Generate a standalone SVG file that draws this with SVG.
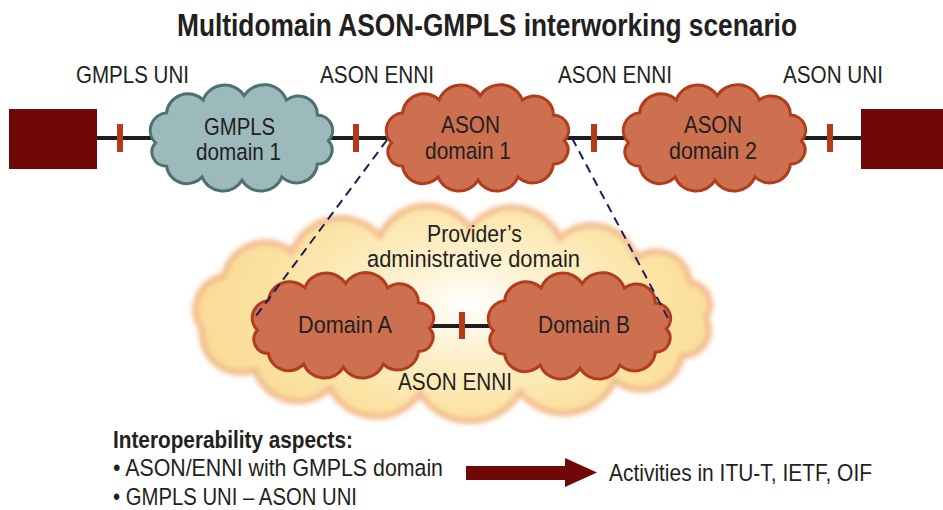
<svg xmlns="http://www.w3.org/2000/svg" xmlns:xlink="http://www.w3.org/1999/xlink" width="943" height="510" viewBox="0 0 943 510">
<style>
text{font-family:"Liberation Sans",Arial,sans-serif;fill:#231f20;font-size:24.5px}
.title{font-size:31px;font-weight:bold}
.bold{font-weight:bold}
.ason{fill:#cc7050;stroke:#b23c1c;stroke-width:3}
.gmpls{fill:#9cb9bc;stroke:#4f7070;stroke-width:3}
.tick{fill:#b5391a}
.wire{stroke:#1e1e1e;stroke-width:4;fill:none}
.dash{stroke:#1c1c5c;stroke-width:2;stroke-dasharray:9 6;fill:none}
.term{fill:#700808}
</style>
<defs>
<path id="cloud" vector-effect="non-scaling-stroke" d="M12,58 A16.5,16.5 0 0 1 22,30 A19.3,19.3 0 0 1 55,18 A20.5,20.5 0 0 1 92,14 A21,21 0 0 1 130,18 A17.2,17.2 0 0 1 158,32 A14.3,14.3 0 0 1 168,56 A13.3,13.3 0 0 1 158,78 A18.8,18.8 0 0 1 126,90 A19.9,19.9 0 0 1 90,93 A19.9,19.9 0 0 1 54,90 A18.4,18.4 0 0 1 22,80 A13.3,13.3 0 0 1 12,58 Z"/>
<radialGradient id="glow" gradientUnits="userSpaceOnUse" cx="470" cy="305" r="260" gradientTransform="translate(470 305) scale(1 0.55) translate(-470 -305)">
<stop offset="0" stop-color="#ffffff"/>
<stop offset="0.35" stop-color="#fdf0cc"/>
<stop offset="0.75" stop-color="#fce3a4"/>
<stop offset="1" stop-color="#fbdc98"/>
</radialGradient>
<filter id="soft" x="-10%" y="-10%" width="120%" height="120%"><feGaussianBlur stdDeviation="2.5"/></filter>
</defs>

<text class="title" x="177" y="36" textLength="620" lengthAdjust="spacingAndGlyphs">Multidomain ASON-GMPLS interworking scenario</text>

<g id="provider-domain">
<path fill="url(#glow)" stroke="#f2bb8c" stroke-width="6" filter="url(#soft)" d="M202,330 A34,34 0 0 1 224,276 A42,42 0 0 1 292,252 A52,52 0 0 1 380,236 A52,52 0 0 1 470,228 A53,53 0 0 1 560,238 A46,46 0 0 1 636,258 A34,34 0 0 1 690,282 A23,23 0 0 1 706,318 A26,26 0 0 1 682,356 A41,41 0 0 1 615,380 A56,56 0 0 1 520,392 A58,58 0 0 1 420,393 A52,52 0 0 1 330,388 A45,45 0 0 1 255,370 A39,39 0 0 1 202,330 Z"/>
<text x="427" y="242" textLength="95" lengthAdjust="spacingAndGlyphs">Provider’s</text>
<text x="367" y="267" textLength="213" lengthAdjust="spacingAndGlyphs">administrative domain</text>
</g>

<g id="connectors">
<line class="wire" x1="97" y1="138" x2="862" y2="138"/>
<line class="wire" x1="430" y1="326" x2="492" y2="326"/>
</g>

<g id="terminal-left"><rect class="term" x="9" y="109" width="88" height="60"/></g>
<g id="terminal-right"><rect class="term" x="861" y="109" width="82" height="60"/></g>

<g id="gmpls-uni"><rect class="tick" x="117" y="124" width="6" height="28"/><text x="76" y="83" textLength="113" lengthAdjust="spacingAndGlyphs">GMPLS UNI</text></g>
<g id="ason-enni-1"><rect class="tick" x="353" y="124" width="6" height="28"/><text x="320" y="83" textLength="114" lengthAdjust="spacingAndGlyphs">ASON ENNI</text></g>
<g id="ason-enni-2"><rect class="tick" x="591" y="124" width="6" height="28"/><text x="558" y="83" textLength="114" lengthAdjust="spacingAndGlyphs">ASON ENNI</text></g>
<g id="ason-uni"><rect class="tick" x="827" y="124" width="6" height="28"/><text x="783" y="83" textLength="100" lengthAdjust="spacingAndGlyphs">ASON UNI</text></g>

<g id="gmpls-domain-1">
<use xlink:href="#cloud" href="#cloud" class="gmpls" transform="translate(142.24 80.72) scale(1.1084 1.07)"/>
<text x="204" y="135" textLength="71" lengthAdjust="spacingAndGlyphs">GMPLS</text>
<text x="196" y="160" textLength="85" lengthAdjust="spacingAndGlyphs">domain 1</text>
</g>
<g id="ason-domain-1">
<use xlink:href="#cloud" href="#cloud" class="ason" transform="translate(378.24 80.72) scale(1.1084 1.07)"/>
<text x="441" y="133" textLength="59" lengthAdjust="spacingAndGlyphs">ASON</text>
<text x="425" y="159" textLength="86" lengthAdjust="spacingAndGlyphs">domain 1</text>
</g>
<g id="ason-domain-2">
<use xlink:href="#cloud" href="#cloud" class="ason" transform="translate(615.24 80.72) scale(1.1084 1.07)"/>
<text x="684" y="133" textLength="58" lengthAdjust="spacingAndGlyphs">ASON</text>
<text x="669" y="159" textLength="88" lengthAdjust="spacingAndGlyphs">domain 2</text>
</g>

<g id="domain-a">
<use xlink:href="#cloud" href="#cloud" class="ason" transform="translate(244.24 268.72) scale(1.1024 1.06)"/>
<text x="298" y="333" textLength="94" lengthAdjust="spacingAndGlyphs">Domain A</text>
</g>
<g id="domain-b">
<use xlink:href="#cloud" href="#cloud" class="ason" transform="translate(480.24 268.72) scale(1.1084 1.07)"/>
<text x="538" y="333" textLength="92" lengthAdjust="spacingAndGlyphs">Domain B</text>
</g>
<g id="ason-enni-inner">
<rect class="tick" x="459" y="312" width="6" height="27"/>
<text x="398" y="390" textLength="114" lengthAdjust="spacingAndGlyphs">ASON ENNI</text>
</g>

<g id="zoom-lines">
<line class="dash" x1="387" y1="140" x2="253" y2="320"/>
<line class="dash" x1="572" y1="138" x2="670" y2="322"/>
</g>

<g id="aspects">
<text class="bold" x="113" y="448" textLength="240" lengthAdjust="spacingAndGlyphs">Interoperability aspects:</text>
<text x="113" y="476" textLength="330" lengthAdjust="spacingAndGlyphs">• ASON/ENNI with GMPLS domain</text>
<text x="113" y="505" textLength="244" lengthAdjust="spacingAndGlyphs">• GMPLS UNI – ASON UNI</text>
</g>
<g id="arrow"><polygon class="term" points="466,466 565,466 565,458 597,472.5 565,487 565,480 466,480"/></g>
<g id="activities"><text x="609" y="481" textLength="263" lengthAdjust="spacingAndGlyphs">Activities in ITU-T, IETF, OIF</text></g>
</svg>
